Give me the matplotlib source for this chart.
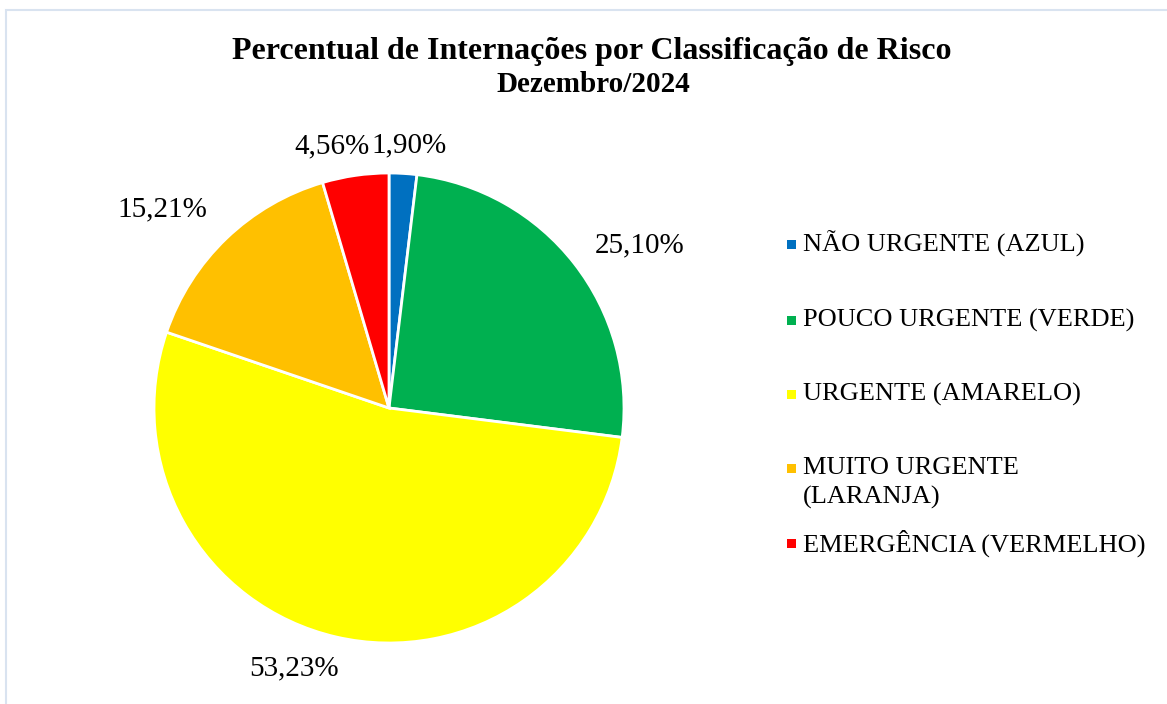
import numpy as np
import matplotlib.pyplot as plt
from matplotlib.patches import Rectangle

categories = ["NÃO URGENTE (AZUL)", "POUCO URGENTE (VERDE)", "URGENTE (AMARELO)",
              "MUITO URGENTE\n(LARANJA)", "EMERGÊNCIA (VERMELHO)"]
values = [1.90, 25.10, 53.23, 15.21, 4.56]
labels = ["1,90%", "25,10%", "53,23%", "15,21%", "4,56%"]
colors = ["#0070C0", "#00B050", "#FFFF00", "#FFC000", "#FF0000"]

plt.rcParams['font.family'] = ['Liberation Serif', 'DejaVu Serif']

W, H = 1167, 704
fig = plt.figure(figsize=(W / 100, H / 100), dpi=100)

# light chart border (runs off the right and bottom edges)
fig.patches.append(Rectangle((5.5 / W, -0.1), 1.2, 1 - 10.5 / H + 0.1,
                             transform=fig.transFigure, fill=False,
                             edgecolor="#D9E3F0", linewidth=1.5))

cx, cy, R = 389, 408, 235
ax = fig.add_axes([(cx - R) / W, (H - cy - R) / H, 2 * R / W, 2 * R / H])
wedges, _ = ax.pie(values, colors=colors, startangle=90, counterclock=False,
                   radius=1, wedgeprops=dict(edgecolor="white", linewidth=2))
ax.set_xlim(-1, 1)
ax.set_ylim(-1, 1)
ax.axis("off")

# data labels, pushed out from each wedge's mid angle
label_r = [1.12, 1.27, 1.18, 1.28, 1.14]
label_shift = [-1, -5, -7, 5, 4]
for w, lab, r, s in zip(wedges, labels, label_r, label_shift):
    ang = np.deg2rad((w.theta1 + w.theta2) / 2 + s)
    ax.text(r * np.cos(ang), r * np.sin(ang), lab, ha="center", va="center",
            fontsize=21, color="black")

fig.text(0.507, 1 - 51 / H, "Percentual de Internações por Classificação de Risco",
         ha="center", va="center", fontsize=23, fontweight="bold")
fig.text(0.508, 1 - 85 / H, "Dezembro/2024",
         ha="center", va="center", fontsize=21, fontweight="bold")

# legend
leg_y = [244, 320, 394, 468, 543]
for cat, col, y in zip(categories, colors, leg_y):
    fig.patches.append(Rectangle((786.5 / W, 1 - (y + 5) / H), 9 / W, 9 / H,
                                 transform=fig.transFigure, facecolor=col,
                                 edgecolor="none"))
    for i, line in enumerate(cat.split("\n")):
        fig.text(803 / W, 1 - (y + i * 29) / H, line, ha="left",
                 va="center", fontsize=19)

fig.savefig("out.png", dpi=100)
